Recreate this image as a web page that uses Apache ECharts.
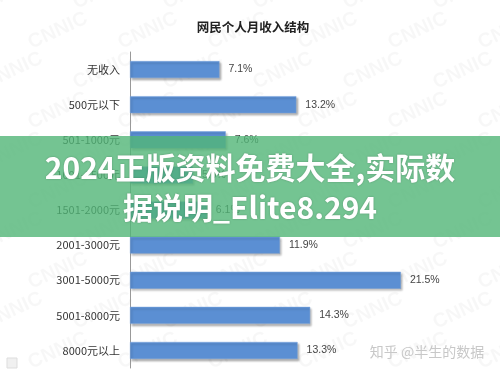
<!DOCTYPE html>
<html><head><meta charset="utf-8">
<script src="https://cdn.jsdelivr.net/npm/echarts@6/dist/echarts.min.js"></script>
<style>html,body{margin:0;padding:0;background:#fff}#c{width:500px;height:375px}</style>
</head><body><div id="c"></div>
<script>
const title = '网民个人月收入结构';
const categories = ['无收入','500元以下','501-1000元','1001-1500元','1501-2000元','2001-3000元','3001-5000元','5001-8000元','8000元以上'];
const shares = [7.1, 13.2, 7.6, 5.0, 6.1, 11.9, 21.5, 14.3, 13.3];
const bannerLines = ['2024正版资料免费大全,实际数', '据说明_Elite8.294'];
const credit = '知乎 @半生的数据';
const watermark = 'CNNIC';

const chart = echarts.init(document.getElementById('c'), null, {renderer:'canvas'});
const font = '"Noto Sans CJK SC","Noto Sans",sans-serif';

const marks = [];
for (let r = 0; r < 10; r++) {
  for (let k = 0; k < 6; k++) {
    marks.push({type:'text', x: -20 + k*90 + (r%2)*45, y: -5 + r*40, rotation: 25*Math.PI/180, silent:true, z:0,
      style:{text: watermark, fill:'rgba(0,0,0,0.03)', font:'bold 20px "Liberation Sans",sans-serif'}});
  }
}

chart.setOption({
  animation:false,
  backgroundColor:'#fff',
  title:{text:title, left:248, top:16, textAlign:'center',
    textStyle:{fontSize:12.5, fontWeight:'bold', color:'#222', fontFamily:font}},
  grid:{left:130, right:55, top:52, bottom:7},
  xAxis:{type:'value', min:0, max:25, show:false},
  yAxis:{type:'category', data:categories, inverse:true,
    axisLine:{lineStyle:{color:'#999', width:1}},
    axisTick:{inside:true, length:3, lineStyle:{color:'#999'}},
    axisLabel:{interval:0, margin:10, fontSize:11, color:'#333', fontFamily:font}},
  series:[{type:'bar', data:shares, barWidth:17,
    itemStyle:{color:'#5b8fd3', borderColor:'#7aa5dc', borderWidth:0.5,
      shadowColor:'rgba(0,0,0,0.3)', shadowBlur:2, shadowOffsetX:1.5, shadowOffsetY:2},
    label:{show:true, position:'right', distance:9, fontSize:10.5, color:'#444',
      fontFamily:'"Liberation Sans",Arial,sans-serif', formatter: p => p.value.toFixed(1) + '%'}}],
  graphic: marks.concat([
    {type:'rect', shape:{x:0, y:136, width:500, height:101}, style:{fill:'rgba(81,181,119,0.8)'}, z:100, silent:true},
    {type:'text', x:250, y:168, z:101, silent:true,
      style:{text:bannerLines[0], fill:'#fff', align:'center', verticalAlign:'middle',
        font:'bold 30px ' + font, textShadowColor:'rgba(0,0,0,0.25)', textShadowBlur:2}},
    {type:'text', x:250, y:208, z:101, silent:true,
      style:{text:bannerLines[1], fill:'#fff', align:'center', verticalAlign:'middle',
        font:'bold 30px ' + font, textShadowColor:'rgba(0,0,0,0.25)', textShadowBlur:2}},
    {type:'text', x:427, y:352, z:101, silent:true,
      style:{text:credit, fill:'#c8c8c8', align:'center', verticalAlign:'middle',
        font:'14px ' + font}},
    {type:'rect', shape:{x:7, y:358, width:10, height:10}, style:{fill:'#f0f0f0', stroke:'#ddd'}, z:101, silent:true}
  ])
});
</script></body></html>
